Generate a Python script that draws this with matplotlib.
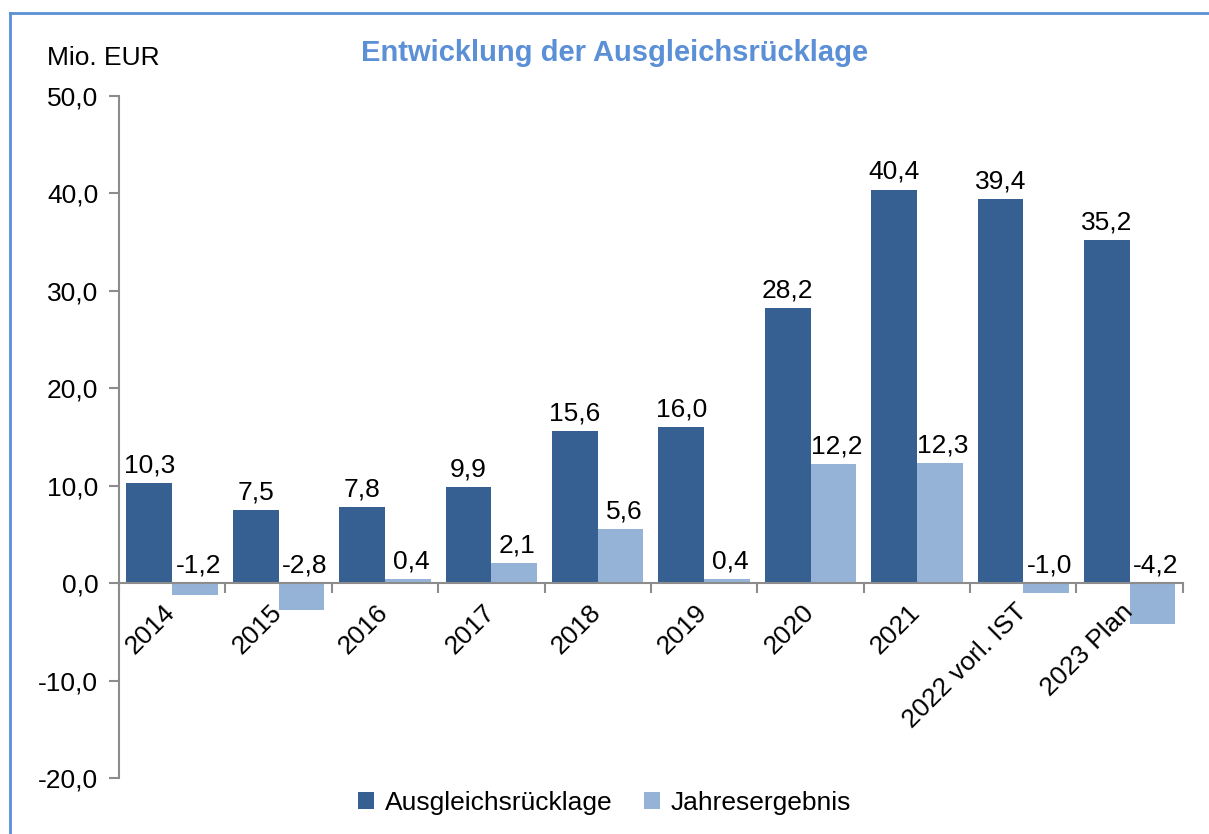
import matplotlib.pyplot as plt
import matplotlib.lines as mlines
import numpy as np

plt.rcParams['font.family'] = ['Liberation Sans', 'DejaVu Sans']

categories = ['2014', '2015', '2016', '2017', '2018', '2019', '2020', '2021',
              '2022 vorl. IST', '2023 Plan']
ruecklage = [10.3, 7.5, 7.8, 9.9, 15.6, 16.0, 28.2, 40.4, 39.4, 35.2]
ergebnis = [-1.2, -2.8, 0.4, 2.1, 5.6, 0.4, 12.2, 12.3, -1.0, -4.2]

dark = '#366092'
light = '#95B3D7'
frame = '#5B8FD6'
axis_gray = '#8C8C8C'
fs = 19


def fmt(v):
    return f'{v:.1f}'.replace('.', ',')


fig = plt.figure(figsize=(12.09, 8.34), dpi=100)
ax = fig.add_axes([0.0984, 0.0671, 0.88, 0.8178])

x = np.arange(len(categories))
w = 0.43
ax.bar(x - w / 2, ruecklage, w, color=dark, label='Ausgleichsrücklage')
ax.bar(x + w / 2, ergebnis, w, color=light, label='Jahresergebnis')

# data labels sit above the bar (or above the zero line for negative values)
for xi, v in zip(x - w / 2, ruecklage):
    ax.annotate(fmt(v), (xi, max(v, 0)), xytext=(0, 4), textcoords='offset points',
                ha='center', va='bottom', fontsize=fs)
for xi, v in zip(x + w / 2, ergebnis):
    ax.annotate(fmt(v), (xi + 0.03, max(v, 0)), xytext=(0, 4), textcoords='offset points',
                ha='center', va='bottom', fontsize=fs)

ax.set_xlim(-0.5, len(categories) - 0.5)
ax.set_ylim(-20, 50)
yt = np.arange(-20, 51, 10)
ax.set_yticks(yt)
ax.set_yticklabels([fmt(t) for t in yt])

# category boundary ticks on the zero line
ax.set_xticks(np.arange(-0.5, len(categories), 1.0))
ax.set_xticklabels([])
ax.tick_params(axis='x', length=7, color=axis_gray, width=1.5)
ax.tick_params(axis='y', length=7, color=axis_gray, width=1.5, pad=8, labelsize=fs)

# rotated category names hanging below the zero line
for xi, name in zip(x, categories):
    ax.annotate(name, (xi - 0.085, 0), xytext=(0, -12), textcoords='offset points',
                rotation=45, ha='right', va='top', rotation_mode='anchor',
                fontsize=fs)

ax.spines['top'].set_visible(False)
ax.spines['right'].set_visible(False)
ax.spines['left'].set_color(axis_gray)
ax.spines['left'].set_linewidth(1.5)
ax.spines['bottom'].set_position(('data', 0))
ax.spines['bottom'].set_color(axis_gray)
ax.spines['bottom'].set_linewidth(1.5)

fig.text(0.508, 0.937, 'Entwicklung der Ausgleichsrücklage', ha='center', va='center',
         fontsize=21, fontweight='bold', color=frame)
fig.text(0.039, 0.931, 'Mio. EUR', ha='left', va='center', fontsize=fs)

fig.legend(loc='center', bbox_to_anchor=(0.5, 0.037), ncol=2, frameon=False,
           fontsize=fs, handlelength=0.6, handleheight=0.6, handletextpad=0.4,
           columnspacing=1.2)

# outer chart frame (only top and left edges visible)
fig.add_artist(mlines.Line2D([10 / 1209, 1], [1 - 13 / 834, 1 - 13 / 834],
                             transform=fig.transFigure, color=frame, lw=2))
fig.add_artist(mlines.Line2D([10 / 1209, 10 / 1209], [0, 1 - 13 / 834],
                             transform=fig.transFigure, color=frame, lw=2))

fig.savefig('out.png', dpi=100)
